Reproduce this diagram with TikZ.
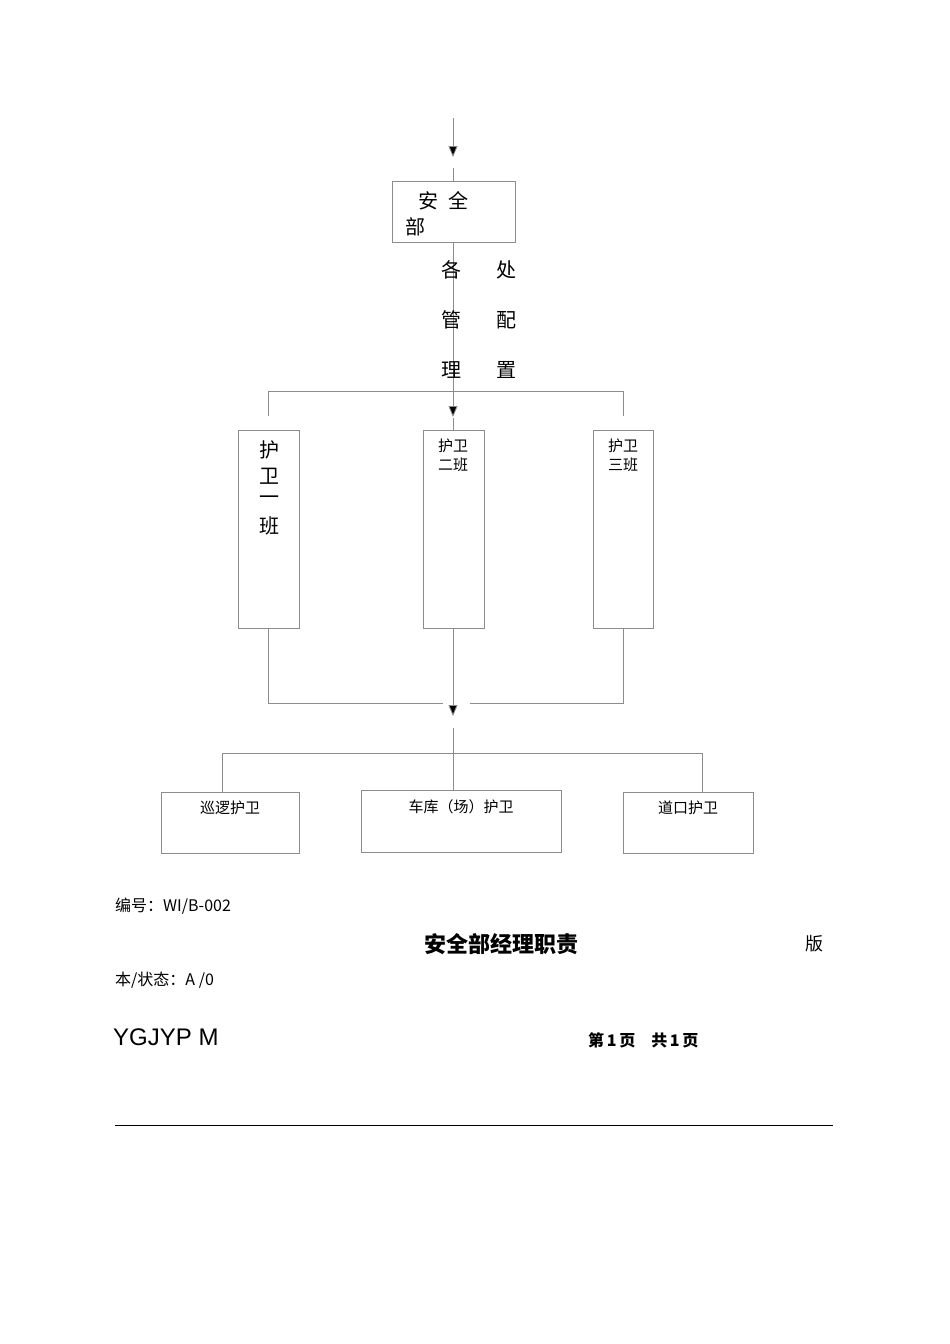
\documentclass[tikz,border=0pt]{standalone}
\usepackage{fontspec}
\setmainfont{Liberation Serif}
\newfontfamily\cjk{Noto Sans CJK SC}
\newfontfamily\lsans{Liberation Sans}
\usetikzlibrary{arrows.meta}
\begin{document}
\begin{tikzpicture}[x=1pt,y=-1pt,
  ln/.style={draw=black!45,line width=0.8pt},
  bx/.style={draw=black!45,line width=0.8pt},
  tip/.style={-{Triangle[width=9pt,length=11pt]},draw=black!45,line width=0.8pt},
  cn/.style={font=\cjk\fontsize{20}{20}\selectfont,inner sep=0pt},
  sn/.style={font=\cjk\fontsize{15}{15}\selectfont,inner sep=0pt}]
\useasboundingbox (0,0) rectangle (950,1344);
% top
\coordinate (t0) at (453,118);
\coordinate (t1) at (453,157);
\coordinate (t2) at (453,168);
\draw[ln,-{Triangle[width=9pt,length=11pt,fill=black]}] (t0) -- (t1);
\draw[bx] (392,181) rectangle (515,242);
\coordinate (a) at (453,181);
\draw[ln] (t2) -- (a);
\node[cn] (a1) at (443,201) {安\hspace{0.5em}全};
\node[cn] (a2) at (415,227) {部};
% vertical through text
\coordinate (a3) at (453,242);
\coordinate (a4) at (453,417);
\draw[ln,-{Triangle[width=9pt,length=11pt,fill=black]}] (a3) -- (a4);
\foreach \t/\u/\y in {各/处/270,管/配/320,理/置/370}{
 \node[cn] at (451,\y) {\t};
 \node[cn] at (506,\y) {\u};}
\draw[ln] (268,416) -- (268,391) -- (623,391) -- (623,416);
\coordinate (b2t) at (453,418);
\coordinate (b2top) at (453,430);
\draw[ln] (b2t) -- (b2top);
% boxes
\draw[bx] (238,430) rectangle (299,628);
\draw[bx] (423,430) rectangle (484,628);
\draw[bx] (593,430) rectangle (653,628);
\foreach \c/\y in {护/450,卫/476,一/500,班/526} \node[cn] at (269,\y) {\c};
\node[sn] at (453,446) {护卫};
\node[sn] at (453,465) {二班};
\node[sn] at (623,446) {护卫};
\node[sn] at (623,465) {三班};
\draw[ln] (268,628) -- (268,703) -- (443,703);
\draw[ln] (623,628) -- (623,703) -- (470,703);
\draw[ln,-{Triangle[width=9pt,length=11pt,fill=black]}] (453,628) -- (453,716);
\draw[ln] (453,728) -- (453,790);
\draw[ln] (222,792) -- (222,753) -- (702,753) -- (702,792);
\draw[bx] (161,792) rectangle (299,853);
\draw[bx] (361,790) rectangle (561,852);
\draw[bx] (623,792) rectangle (753,853);
\node[sn] (c1) at (230,808) {巡逻护卫};
\node[sn] (c2) at (461,807) {车库（场）护卫};
\node[sn] (c3) at (688,808) {道口护卫};
% footer
\node[anchor=west,inner sep=0pt,font=\cjk\fontsize{16}{16}\selectfont] at (115,906) {编号：WI/B-002};
\node[inner sep=0pt,font=\cjk\bfseries\fontsize{22}{22}\selectfont] at (501,944) {安全部经理职责};
\node[inner sep=0pt,font=\cjk\fontsize{18}{18}\selectfont] at (814,944) {版};
\node[anchor=west,inner sep=0pt,font=\cjk\fontsize{16}{16}\selectfont] at (115,980) {本/状态：A /0};
\node[anchor=west,inner sep=0pt,font=\lsans\fontsize{24}{24}\selectfont] at (113,1037) {YGJYP M};
\node[anchor=west,inner sep=0pt,font=\cjk\bfseries\fontsize{16}{16}\selectfont] at (588,1040) {第\,1\,页\quad 共\,1\,页};
\draw[black,line width=0.8pt] (115,1125) -- (833,1125);
\end{tikzpicture}
\end{document}
